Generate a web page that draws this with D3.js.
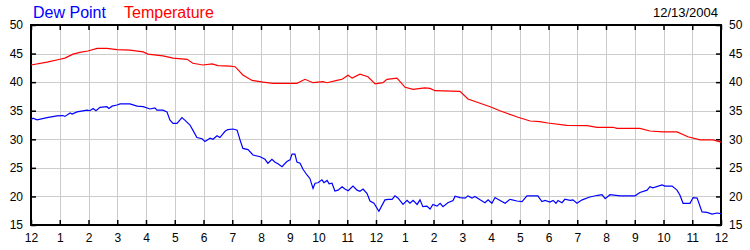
<!DOCTYPE html>
<html><head><meta charset="utf-8">
<script src="https://cdn.jsdelivr.net/npm/d3@7"></script>
<style>body{margin:0;background:#fff}svg{display:block}</style>
</head><body>
<svg id="c" width="750" height="250"></svg>
<script>
const xTickLabels = ["12","1","2","3","4","5","6","7","8","9","10","11","12","1","2","3","4","5","6","7","8","9","10","11","12"];
const yTicks = [15,20,25,30,35,40,45,50];
const seriesNames = ["Dew Point","Temperature"];
const dateLabel = "12/13/2004";

const tempHours = [0,0.56,1.01,1.18,1.46,1.70,1.98,2.30,2.64,2.99,3.44,3.90,4.07,4.59,4.94,5.43,5.63,5.98,6.30,6.50,6.92,7.10,7.37,7.69,8.07,8.42,9.25,9.53,9.81,10.16,10.30,10.64,10.82,11.03,11.17,11.44,11.72,11.97,12.24,12.38,12.73,13.01,13.29,13.70,13.88,14.05,14.92,15.20,15.62,15.97,16.31,16.94,17.36,17.70,17.98,18.64,19.34,19.69,20.24,20.38,21.18,21.53,21.98,22.47,22.85,23.27,23.72,24];
const tempValues = [43.0,43.5,44.0,44.2,44.9,45.2,45.45,45.9,45.9,45.7,45.6,45.3,44.9,44.6,44.2,44.0,43.3,43.0,43.2,42.9,42.8,42.7,41.25,40.3,40.0,39.8,39.8,40.5,39.9,40.1,39.9,40.3,40.5,41.2,40.7,41.4,40.95,39.7,39.9,40.5,40.7,39.1,38.75,39.0,38.9,38.5,38.4,37.05,36.3,35.7,35.0,33.85,33.2,33.1,32.85,32.45,32.4,32.1,32.1,31.9,31.9,31.45,31.3,31.3,30.45,29.9,29.9,29.5];

const dewHours = [0,0.07,0.21,0.56,0.90,1.11,1.18,1.36,1.43,1.60,1.95,2.05,2.16,2.26,2.40,2.64,2.71,2.82,2.99,3.10,3.44,3.69,3.90,4.14,4.31,4.38,4.59,4.73,4.83,4.94,5.08,5.25,5.36,5.53,5.63,5.77,5.95,6.05,6.23,6.33,6.47,6.57,6.75,6.85,7.03,7.17,7.27,7.37,7.55,7.72,7.97,8.14,8.24,8.38,8.49,8.59,8.73,8.90,9.01,9.08,9.18,9.25,9.36,9.46,9.60,9.70,9.81,9.88,9.98,10.12,10.19,10.30,10.37,10.47,10.57,10.68,10.82,10.92,11.03,11.20,11.34,11.44,11.55,11.69,11.79,11.93,12.10,12.31,12.42,12.56,12.66,12.77,12.94,13.08,13.18,13.29,13.43,13.53,13.63,13.77,13.88,13.98,14.12,14.23,14.33,14.50,14.68,14.75,14.92,15.10,15.20,15.34,15.44,15.62,15.79,15.90,16.03,16.14,16.24,16.49,16.66,16.90,17.08,17.25,17.63,17.77,17.88,18.05,18.16,18.26,18.33,18.47,18.57,18.75,18.85,18.99,19.17,19.44,19.72,19.86,19.97,20.14,20.49,21.01,21.18,21.43,21.53,21.63,21.95,22.05,22.30,22.47,22.57,22.68,22.92,23.03,23.17,23.34,23.51,23.69,23.86,24];
const dewValues = [33.4,33.7,33.4,33.8,34.1,34.15,34.0,34.6,34.4,34.8,35.1,35.0,35.4,35.0,35.6,35.7,35.4,35.8,36.0,36.2,36.2,35.8,35.7,35.3,35.5,35.1,35.1,34.8,33.4,32.8,32.8,33.8,33.3,32.5,31.6,30.3,30.1,29.6,30.2,30.0,30.6,30.3,31.4,31.7,31.8,31.6,29.9,28.4,28.2,27.25,26.95,26.5,25.8,26.5,26.0,25.7,25.2,26.1,26.4,27.4,27.4,26.0,25.8,24.75,23.75,23.15,21.4,22.3,22.4,22.9,22.4,22.8,22.2,22.3,20.95,21.1,21.7,21.3,21.0,21.8,21.1,20.9,21.3,20.5,19.2,18.8,17.4,19.4,19.5,19.5,20.1,19.7,18.6,19.3,18.8,19.3,18.6,19.4,18.2,18.3,17.8,18.6,18.3,18.8,18.2,18.9,19.3,20.05,19.8,19.7,20.1,19.7,20.0,19.4,18.9,19.4,18.8,19.8,19.5,18.8,19.5,19.2,19.1,20.1,20.1,19.1,19.3,19.0,19.3,18.8,19.3,18.9,19.5,19.3,19.4,18.8,19.4,19.9,20.2,20.3,19.6,20.3,20.1,20.1,20.7,21.1,21.7,21.5,22.0,21.8,21.8,21.1,20.25,18.8,18.8,19.8,19.7,17.3,17.2,16.9,17.1,17.0];

const svg = d3.select("#c");
const L = 31, R = 721, T = 25, B = 225;
const x = d3.scaleLinear().domain([0,24]).range([L,R]);
const y = d3.scaleLinear().domain([15,50]).range([B,T]);
const font = "Arial, 'Liberation Sans', sans-serif";

// grid
const g = svg.append("g");
g.selectAll(".vg").data(d3.range(1,24)).enter().append("line")
  .attr("x1", d=>Math.round(x(d))+0.5).attr("x2", d=>Math.round(x(d))+0.5)
  .attr("y1", T).attr("y2", B).attr("stroke", "#cccccc").attr("stroke-width",1);
g.selectAll(".hg").data(yTicks.slice(1,-1)).enter().append("line")
  .attr("y1", d=>Math.round(y(d))+0.5).attr("y2", d=>Math.round(y(d))+0.5)
  .attr("x1", L).attr("x2", R).attr("stroke", "#cccccc").attr("stroke-width",1);

// axes with inward ticks
const axB = d3.axisBottom(x).tickValues(d3.range(0,25)).tickSize(-5).tickPadding(8).tickFormat((d,i)=>xTickLabels[i]);
const axT = d3.axisTop(x).tickValues(d3.range(0,25)).tickSize(-5).tickFormat("");
const axL = d3.axisLeft(y).tickValues(yTicks).tickSize(-5).tickPadding(8);
const axR = d3.axisRight(y).tickValues(yTicks).tickSize(-5).tickPadding(8);
function style(sel){
  sel.select(".domain").remove();
  sel.selectAll(".tick line").attr("stroke","#000").attr("stroke-width",1.5);
  sel.selectAll("text").attr("fill","#000").style("font-family",font).style("font-size","12px");
}
svg.append("g").attr("transform",`translate(0,${B})`).call(axB).call(style);
svg.append("g").attr("transform",`translate(0,${T})`).call(axT).call(style);
svg.append("g").attr("transform",`translate(${L},0)`).call(axL).call(style);
svg.append("g").attr("transform",`translate(${R},0)`).call(axR).call(style);

// frame
svg.append("rect").attr("x",L).attr("y",T).attr("width",R-L).attr("height",B-T)
  .attr("fill","none").attr("stroke","#000").attr("stroke-width",2);

// lines
const line = d3.line().x(d=>x(d[0])).y(d=>y(d[1]));
svg.append("path").datum(d3.zip(tempHours,tempValues)).attr("d",line)
  .attr("fill","none").attr("stroke","#ff0000").attr("stroke-width",1.2);
svg.append("path").datum(d3.zip(dewHours,dewValues)).attr("d",line)
  .attr("fill","none").attr("stroke","#0000ff").attr("stroke-width",1.2);

// legend / title
const colors = ["#0000ff","#ff0000"];
const legX = [33,124];
seriesNames.forEach((n,i)=>{
  svg.append("text").attr("x",legX[i]).attr("y",18).text(n)
    .attr("fill",colors[i]).style("font-family",font).style("font-size","16px");
});
svg.append("text").attr("x",718).attr("y",17).attr("text-anchor","end").text(dateLabel)
  .attr("fill","#000").style("font-family",font).style("font-size","13px");
</script>
</body></html>
